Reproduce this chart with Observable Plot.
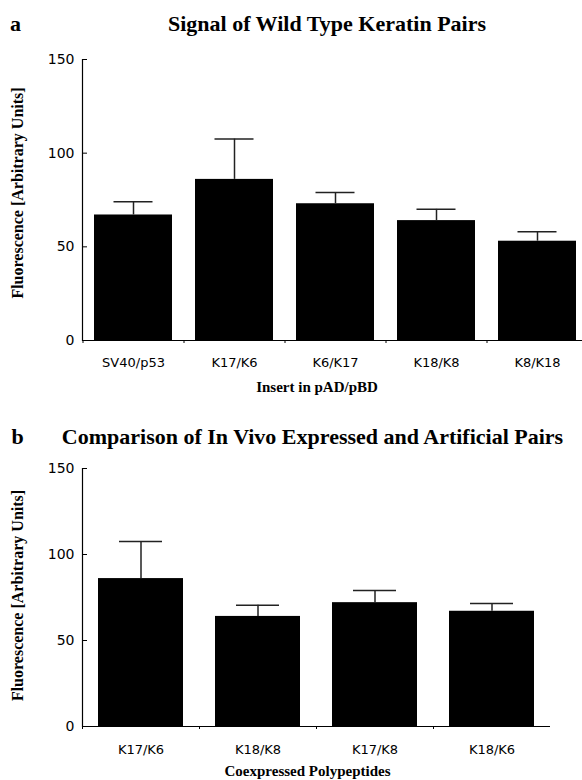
<!DOCTYPE html>
<html><head><meta charset="utf-8">
<script src="https://cdn.jsdelivr.net/npm/d3@7"></script>
<script src="https://cdn.jsdelivr.net/npm/@observablehq/plot@0.6"></script>
<style>
html,body{margin:0;padding:0;background:#fff;overflow:hidden;width:582px;height:780px}
#a,#b{position:absolute;left:0;width:600px}
#a{top:0}
#b{top:400px}
svg{max-width:none !important}
</style></head><body>
<div id="a"></div><div id="b"></div>
<script>
// Panel a
const catsA = ["SV40/p53", "K17/K6", "K6/K17", "K18/K8", "K8/K18"];
const meanA = [67, 86, 73, 64, 53];
const errA = [7, 21.5, 6, 6, 5];
// Panel b
const catsB = ["K17/K6", "K18/K8", "K17/K8", "K18/K6"];
const meanB = [86, 64, 72, 67];
const errB = [21.5, 6.5, 7, 4.5];
// Axis ticks & text
const yTicks = [0, 50, 100, 150];
const yDomain = [0, 150];
const titleA = "Signal of Wild Type Keratin Pairs";
const titleB = "Comparison of In Vivo Expressed and Artificial Pairs";
const xLabelA = "Insert in pAD/pBD";
const xLabelB = "Coexpressed Polypeptides";
const yLabel = "Fluorescence [Arbitrary Units]";

const serif = "'Liberation Serif', 'Times New Roman', serif";
const sans = "'DejaVu Sans', Verdana, sans-serif";

function chart(o) {
  const data = o.cats.map((c, i) => ({c, m: o.mean[i], e: o.mean[i] + o.err[i]}));
  const step = (o.width - o.ml - o.mr) / o.cats.length;
  const label = {textAnchor: "middle", lineAnchor: "middle", fontWeight: "bold", fontFamily: serif, fill: "#000"};
  return Plot.plot({
    width: o.width, height: o.height,
    marginLeft: o.ml, marginRight: o.mr, marginTop: o.mt, marginBottom: o.mb,
    style: {background: "#fff", overflow: "visible"},
    x: {domain: o.cats, paddingInner: o.pad, paddingOuter: o.pad / 2, axis: null},
    y: {domain: yDomain, axis: null},
    marks: [
      Plot.barY(data, {x: "c", y: "m", fill: "#000"}),
      Plot.ruleX(data, {x: "c", y1: "m", y2: "e", stroke: "#222", strokeWidth: 1.5}),
      Plot.tickY(data, {x: "c", y: "e", stroke: "#222", strokeWidth: 1.5, insetLeft: o.cap, insetRight: o.cap}),
      Plot.ruleY([0], {stroke: "#000", strokeWidth: 1.2}),
      Plot.frame({anchor: "left", stroke: "#000", strokeWidth: 1.2}),
      Plot.axisY(yTicks, {anchor: "left", tickSize: 0, tickPadding: 8, fontSize: 14, fontFamily: sans, fill: "#000", label: null}),
      Plot.axisY(yTicks, {anchor: "left", tickSize: 5, dx: 5, tickFormat: () => "", stroke: "#000", label: null}),
      Plot.axisX({tickSize: 3, dx: -step / 2, tickFormat: () => "", stroke: "#000", label: null}),
      Plot.axisX({tickSize: 0, tickPadding: o.xtp, fontSize: 13, fontFamily: sans, fill: "#000", label: null}),
      Plot.text([o.title], {...label, text: d => d, frameAnchor: "top", dx: o.tdx, dy: o.tdy, fontSize: 22}),
      Plot.text([o.letter], {...label, text: d => d, frameAnchor: "top-left", dx: o.ldx, dy: o.tdy, fontSize: 22}),
      Plot.text([o.xLabel], {...label, text: d => d, frameAnchor: "bottom", dx: o.xldx, dy: o.xldy, fontSize: 15}),
      Plot.text([yLabel], {...label, text: d => d, frameAnchor: "left", rotate: -90, dx: -65, dy: o.yldy, fontSize: 16})
    ]
  });
}

document.getElementById("a").append(chart({
  cats: catsA, mean: meanA, err: errA, title: titleA, letter: "a", xLabel: xLabelA,
  width: 590, height: 400, ml: 82, mr: 3, mt: 59, mb: 60, pad: 0.23, cap: 19.5,
  xtp: 17, tdx: -8, tdy: -36, ldx: -67, xldx: -18, xldy: 47, yldy: -7
}));
document.getElementById("b").append(chart({
  cats: catsB, mean: meanB, err: errB, title: titleB, letter: "b", xLabel: xLabelB,
  width: 582, height: 380, ml: 82, mr: 32, mt: 68, mb: 54, pad: 0.27, cap: 21,
  xtp: 18, tdx: -4, tdy: -32, ldx: -65, xldx: -9, xldy: 45, yldy: -2
}));
</script>
</body></html>
